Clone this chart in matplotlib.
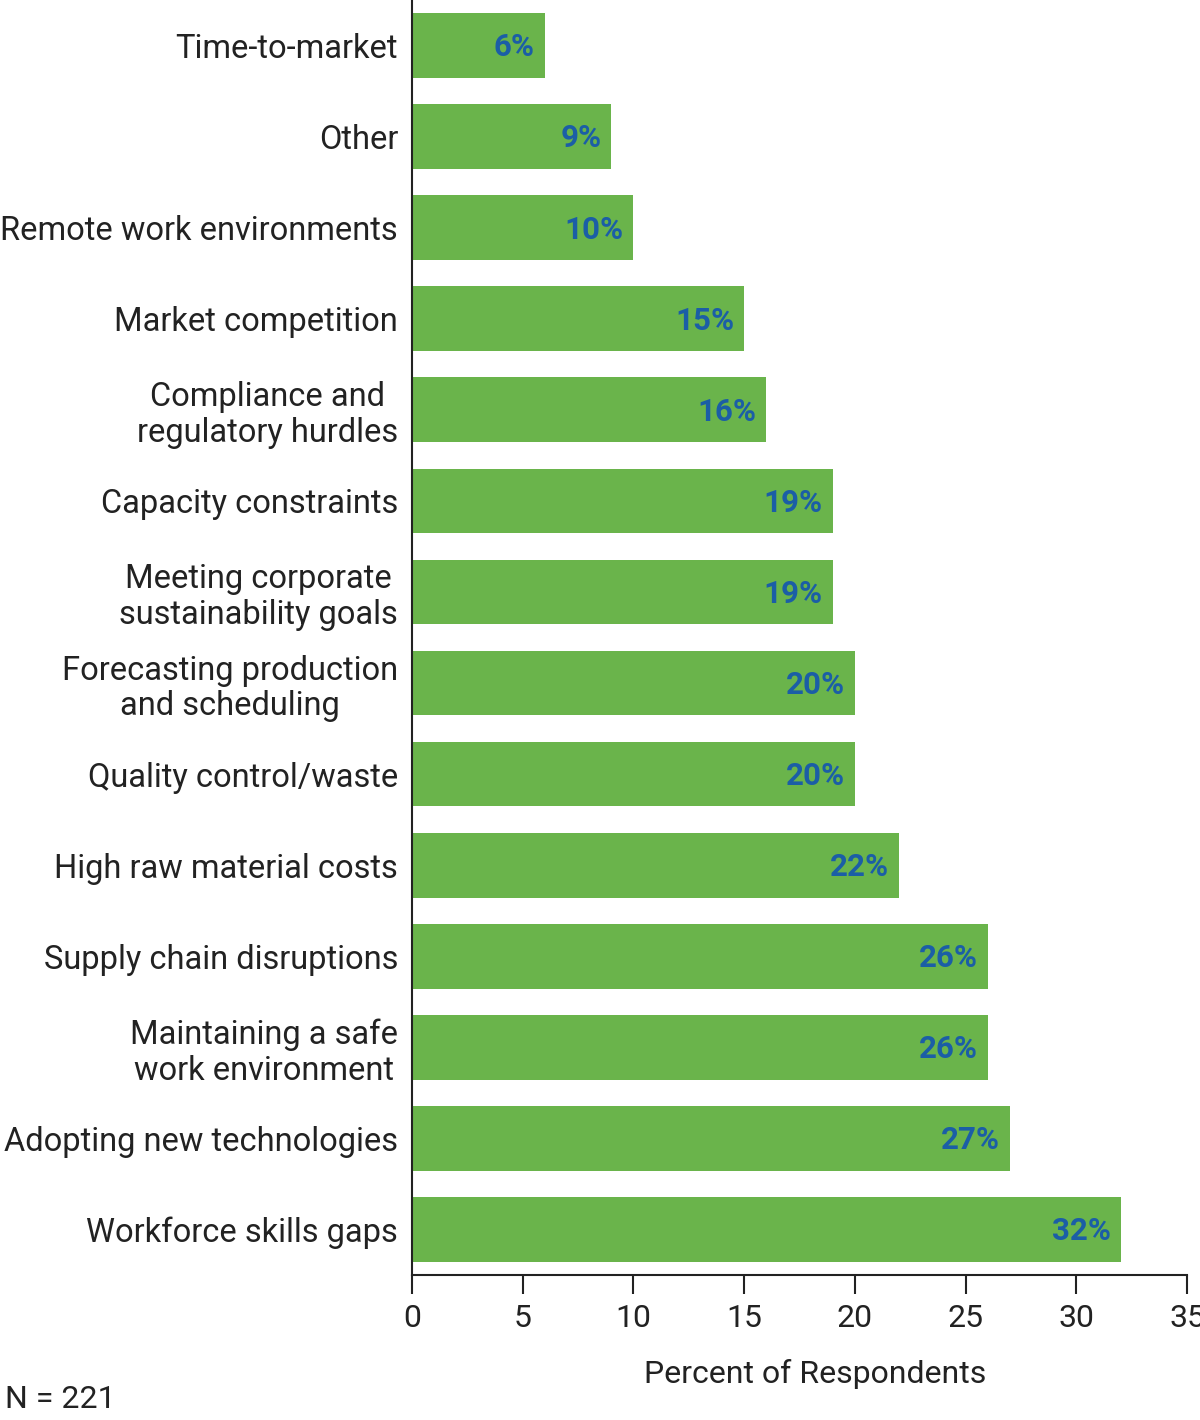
import matplotlib
matplotlib.use("Agg")
import matplotlib.pyplot as plt

categories = [
    "Time-to-market",
    "Other",
    "Remote work environments",
    "Market competition",
    "Compliance and\nregulatory hurdles",
    "Capacity constraints",
    "Meeting corporate\nsustainability goals",
    "Forecasting production\nand scheduling",
    "Quality control/waste",
    "High raw material costs",
    "Supply chain disruptions",
    "Maintaining a safe\nwork environment",
    "Adopting new technologies",
    "Workforce skills gaps",
]
values = [6, 9, 10, 15, 16, 19, 19, 20, 20, 22, 26, 26, 27, 32]
xticks = [0, 5, 10, 15, 20, 25, 30, 35]

plt.rcParams['font.family'] = ['Roboto', 'DejaVu Sans']

fig = plt.figure(figsize=(12, 14.2), dpi=100)
ax = fig.add_axes([412/1200, 1 - 1275/1420, 775/1200, 1275/1420])

ypos = list(range(len(categories)))
ax.barh(ypos, values, height=0.71, color='#6AB44B')
ax.set_ylim(len(categories) - 0.5, -0.5)
ax.set_xlim(0, 35)

for y, v in zip(ypos, values):
    ax.text(v - 0.45, y + 0.02, f"{v}%", ha='right', va='center', fontsize=22.5,
            fontweight='semibold', color='#1B5EA6')

ax.set_yticks(ypos)
ax.set_yticklabels(categories, fontsize=23.5, multialignment='center',
                   color='#222222', linespacing=1.15)
ax.set_xticks(xticks)
ax.set_xticklabels([str(t) for t in xticks], fontsize=23, color='#222222')
ax.tick_params(axis='y', length=0, pad=10)
ax.tick_params(axis='x', length=14, width=1.5, direction='out', pad=7, color='#222222')

for s in ['top', 'right']:
    ax.spines[s].set_visible(False)
for s in ['left', 'bottom']:
    ax.spines[s].set_linewidth(1.5)
    ax.spines[s].set_color('#222222')

ax.set_xlabel("Percent of Respondents", fontsize=23, color='#222222')
ax.xaxis.set_label_coords(0.52, -0.066)
fig.text(5/1200, 1 - 1400/1420, "N = 221", fontsize=23, color='#222222', ha='left', va='center')

fig.savefig("out.png", dpi=100)
